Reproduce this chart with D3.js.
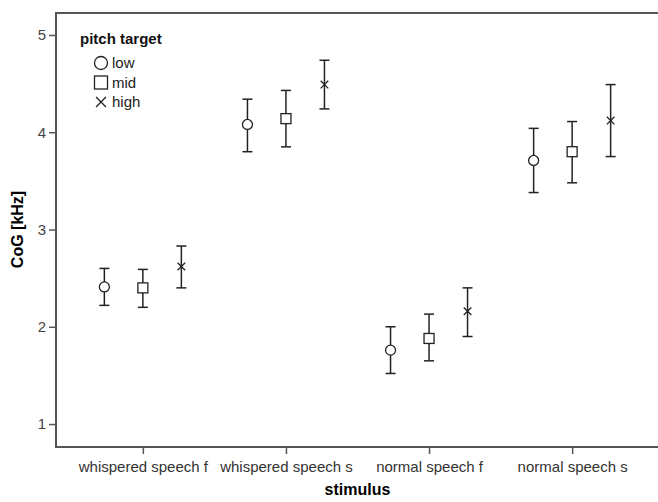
<!DOCTYPE html>
<html>
<head>
<meta charset="utf-8">
<script src="https://cdn.jsdelivr.net/npm/d3@7"></script>
<style>
  html, body { margin: 0; background: #fff; overflow: hidden; }
  svg { display: block; }
  text { font-family: "Liberation Sans", Arial, sans-serif; }
</style>
</head>
<body>
<svg id="chart" width="658" height="502"></svg>
<script>
// data
const stimuli = ['whispered speech f', 'whispered speech s', 'normal speech f', 'normal speech s'];
const targets = ['low', 'mid', 'high'];
const yTicks = [1, 2, 3, 4, 5];

// mean, lower and upper bound of the error bar, one row per pitch target
const lowMean = [2.41, 4.08, 1.76, 3.71];
const lowLo = [2.22, 3.80, 1.52, 3.38];
const lowHi = [2.60, 4.34, 2.00, 4.04];

const midMean = [2.40, 4.14, 1.88, 3.80];
const midLo = [2.20, 3.85, 1.65, 3.48];
const midHi = [2.59, 4.43, 2.13, 4.11];

const highMean = [2.62, 4.49, 2.16, 4.12];
const highLo = [2.40, 4.24, 1.90, 3.75];
const highHi = [2.83, 4.74, 2.40, 4.49];

const svg = d3.select('#chart');
const margin = { left: 56, top: 13, right: -1, bottom: 55 };
const width = 658 - margin.left - margin.right;
const height = 502 - margin.top - margin.bottom;

const g = svg.append('g').attr('transform', `translate(${margin.left},${margin.top})`);

const x = d3.scalePoint().domain(stimuli).range([0, width]).padding(0.607);
const xOff = d3.scalePoint().domain(targets).range([-38.5, 38.5]);
const y = d3.scaleLinear().domain([0.764, 5.226]).range([height, 0]);

const axisColor = '#555';

// frame: left, top and bottom lines (right side runs past the picture edge)
g.append('path')
  .attr('d', `M${width + 10},0H0V${height}H${width + 10}`)
  .attr('fill', 'none').attr('stroke', axisColor).attr('stroke-width', 2);

// y axis
const yAxis = g.append('g')
  .call(d3.axisLeft(y).tickValues(yTicks).tickSize(7).tickPadding(3).tickFormat(d3.format('d')));
yAxis.select('.domain').remove();
yAxis.selectAll('line').attr('stroke', axisColor).attr('stroke-width', 1.5);
yAxis.selectAll('text').attr('font-size', 15).attr('fill', '#444');

// x axis
const xAxis = g.append('g').attr('transform', `translate(0,${height})`)
  .call(d3.axisBottom(x).tickSize(7).tickPadding(7));
xAxis.select('.domain').remove();
xAxis.selectAll('line').attr('stroke', axisColor).attr('stroke-width', 1.5);
xAxis.selectAll('text').attr('font-size', 15).attr('fill', '#333');

// axis titles
svg.append('text')
  .attr('x', margin.left + width / 2).attr('y', 495)
  .attr('text-anchor', 'middle').attr('font-size', 16).attr('font-weight', 'bold')
  .text('stimulus');

svg.append('text')
  .attr('transform', `translate(23,${margin.top + y(3)}) rotate(-90)`)
  .attr('text-anchor', 'middle').attr('font-size', 16).attr('font-weight', 'bold')
  .text('CoG [kHz]');

// build rows
const series = [
  { key: 'low', mean: lowMean, lo: lowLo, hi: lowHi },
  { key: 'mid', mean: midMean, lo: midLo, hi: midHi },
  { key: 'high', mean: highMean, lo: highLo, hi: highHi }
];
const points = [];
series.forEach(s => {
  stimuli.forEach((st, i) => {
    points.push({ target: s.key, stim: st, mean: s.mean[i], lo: s.lo[i], hi: s.hi[i] });
  });
});

const ink = '#222';

function drawSymbol(sel, type, size) {
  if (type === 'low') {
    sel.append('circle').attr('r', size / 2)
      .attr('fill', '#fff').attr('stroke', ink).attr('stroke-width', 1.3);
  } else if (type === 'mid') {
    sel.append('rect')
      .attr('x', -size / 2).attr('y', -size / 2).attr('width', size).attr('height', size)
      .attr('fill', '#fff').attr('stroke', ink).attr('stroke-width', 1.3);
  } else {
    const h = size * 0.38;
    sel.append('path')
      .attr('d', `M${-h},${-h}L${h},${h}M${-h},${h}L${h},${-h}`)
      .attr('stroke', ink).attr('stroke-width', 1.3);
  }
}

const pts = g.selectAll('.pt').data(points).enter().append('g')
  .attr('class', 'pt')
  .attr('transform', d => `translate(${x(d.stim) + xOff(d.target)},0)`);

pts.append('line')
  .attr('y1', d => y(d.lo)).attr('y2', d => y(d.hi))
  .attr('stroke', ink).attr('stroke-width', 1.5);
pts.append('line')
  .attr('x1', -5).attr('x2', 5)
  .attr('y1', d => y(d.hi)).attr('y2', d => y(d.hi))
  .attr('stroke', ink).attr('stroke-width', 1.5);
pts.append('line')
  .attr('x1', -5).attr('x2', 5)
  .attr('y1', d => y(d.lo)).attr('y2', d => y(d.lo))
  .attr('stroke', ink).attr('stroke-width', 1.5);

pts.each(function(d) {
  const s = d3.select(this).append('g').attr('transform', `translate(0,${y(d.mean)})`);
  drawSymbol(s, d.target, 10);
});

// legend
const legend = svg.append('g').attr('transform', 'translate(80,0)');
legend.append('text')
  .attr('x', 0).attr('y', 44)
  .attr('font-size', 15).attr('font-weight', 'bold').attr('fill', '#111')
  .text('pitch target');

targets.forEach((t, i) => {
  const row = legend.append('g').attr('transform', `translate(21,${63 + i * 19.5})`);
  drawSymbol(row, t, 13);
  row.append('text')
    .attr('x', 11).attr('y', 5)
    .attr('font-size', 15).attr('fill', '#222')
    .text(t);
});
</script>
</body>
</html>
